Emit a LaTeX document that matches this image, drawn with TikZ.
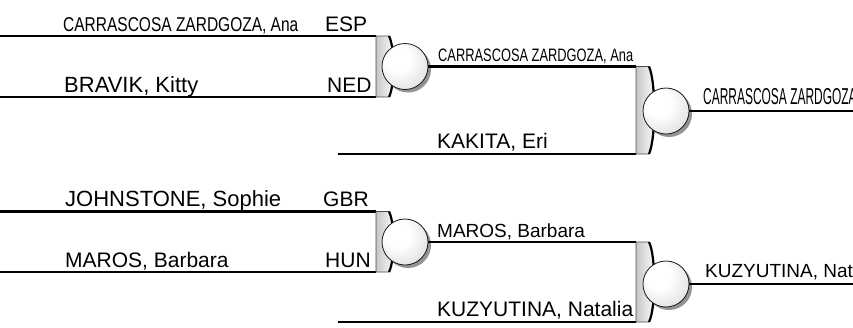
\documentclass[tikz,border=0pt]{standalone}
\usepackage{fontspec}
\usetikzlibrary{shadows}
\newfontfamily\arialfont{Liberation Sans}
\newfontfamily\narrowfont[FakeStretch=0.775]{Liberation Sans}
\newfontfamily\narrowerfont[FakeStretch=0.714]{Liberation Sans}
\newfontfamily\narrowestfont[FakeStretch=0.52]{Liberation Sans}
\pgfdeclareradialshading{knobshade}{\pgfpoint{-12bp}{12bp}}{color(0bp)=(white); color(14bp)=(white); color(38bp)=(gray!30); color(50bp)=(gray!55)}

\begin{document}
\begin{tikzpicture}[
    x=1pt, y=-1pt,
    every node/.style={inner sep=0pt, anchor=base west},
    entry/.style={font=\arialfont\fontsize{21}{25}\selectfont},
    entrybig/.style={font=\arialfont\fontsize{22}{26}\selectfont},
    entrysmall/.style={font=\arialfont\fontsize{19}{23}\selectfont},
    longname/.style={font=\narrowfont\fontsize{20}{24}\selectfont},
    longnamesmall/.style={font=\narrowerfont\fontsize{18}{22}\selectfont},
    longnamebig/.style={font=\narrowestfont\fontsize{23}{27}\selectfont},
    line/.style={draw, line width=2.2pt},
    bracket/.style={left color=gray!45, right color=white, draw=gray!60!black, line width=0.6pt},
    bracketedge/.style={draw, line width=2.2pt},
    knob/.style={circle, anchor=center, minimum size=46pt, draw=gray!20!black, line width=0.8pt,
        shading=knobshade, drop shadow={shadow xshift=3pt, shadow yshift=-3pt, fill=gray!70!black, opacity=0.65}}
]
\path[use as bounding box, clip] (0,0) rectangle (853,327);

% Round 1: first match
\coordinate (p1) at (0,36);
\coordinate (p2) at (0,97);
\coordinate (b1t) at (376,36);
\coordinate (b1b) at (376,97);
\node[longname] (n1) at (63,31) {CARRASCOSA ZARDGOZA, Ana};
\node[entry] (c1) at (325,31) {ESP};
\node[entrybig] (n2) at (64,92) {BRAVIK, Kitty};
\node[entry] (c2) at (327,92) {NED};
\draw[line] (p1) -- (b1t);
\draw[line] (p2) -- (b1b);
\path[bracket] (b1t) -- (389,36) .. controls (395,48) and (395,85) .. (389,97) -- (b1b) -- cycle;
\draw[bracketedge] (389,36) .. controls (395,48) and (395,85) .. (389,97);
\node[knob] (k1) at (405,66.5) {};

% Round 1: second match
\coordinate (p3) at (0,211.5);
\coordinate (p4) at (0,272);
\coordinate (b2t) at (376,211.5);
\coordinate (b2b) at (376,272);
\node[entrybig] (n3) at (65,206) {JOHNSTONE, Sophie};
\node[entry] (c3) at (323,206) {GBR};
\node[entry] (n4) at (65,267) {MAROS, Barbara};
\node[entry] (c4) at (325,267) {HUN};
\draw[line] (p3) -- (b2t);
\draw[line] (p4) -- (b2b);
\path[bracket] (b2t) -- (389,211.5) .. controls (395,223) and (395,260) .. (389,272) -- (b2b) -- cycle;
\draw[bracketedge] (389,211.5) .. controls (395,223) and (395,260) .. (389,272);
\node[knob] (k2) at (405,242) {};

% Round 2: first match
\coordinate (b3t) at (636,66.5);
\coordinate (b3b) at (636,154);
\coordinate (p5) at (338,154);
\node[longnamesmall] (w1) at (438,61.5) {CARRASCOSA ZARDGOZA, Ana};
\node[entry] (n5) at (437,148) {KAKITA, Eri};
\draw[line] (k1.east) -- (b3t);
\draw[line] (p5) -- (b3b);
\path[bracket] (b3t) -- (649,66.5) .. controls (656,82) and (656,138) .. (649,154) -- (b3b) -- cycle;
\draw[bracketedge] (649,66.5) .. controls (656,82) and (656,138) .. (649,154);
\node[knob] (k3) at (666,111) {};

% Round 2: second match
\coordinate (b4t) at (636,242);
\coordinate (b4b) at (636,322);
\coordinate (p6) at (338,322);
\node[entrysmall] (w2) at (437,237) {MAROS, Barbara};
\node[entry] (n6) at (437,316) {KUZYUTINA, Natalia};
\draw[line] (k2.east) -- (b4t);
\draw[line] (p6) -- (b4b);
\path[bracket] (b4t) -- (649,242) .. controls (656,256) and (656,308) .. (649,322) -- (b4b) -- cycle;
\draw[bracketedge] (649,242) .. controls (656,256) and (656,308) .. (649,322);
\node[knob] (k4) at (666,284) {};

% Round 3 (cut off at the right edge)
\coordinate (e1) at (870,111);
\coordinate (e2) at (870,284);
\node[longnamebig] (w3) at (703,104) {CARRASCOSA ZARDGOZA, Ana};
\node[entrysmall] (w4) at (705,277) {KUZYUTINA, Natalia};
\draw[line] (k3.east) -- (e1);
\draw[line] (k4.east) -- (e2);

\end{tikzpicture}
\end{document}
